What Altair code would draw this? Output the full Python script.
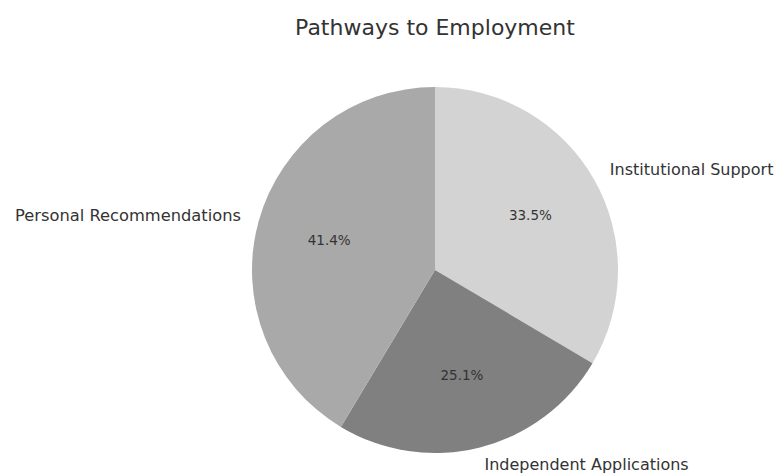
import altair as alt
import pandas as pd

categories = ["Institutional Support", "Independent Applications", "Personal Recommendations"]
shares = [33.5, 25.1, 41.4]
colors = ["#d3d3d3", "#808080", "#a9a9a9"]
label_side = ["right", "right", "left"]

df = pd.DataFrame({
    "category": categories,
    "share": shares,
    "order": list(range(len(categories))),
    "side": label_side,
    "pct": [f"{v:.1f}%" for v in shares],
})

CX, CY, R = 427, 212, 183

base = alt.Chart(df).encode(
    theta=alt.Theta("share:Q", stack=True),
    order=alt.Order("order:Q"),
).transform_calculate(
    lab_right="datum.side == 'right' ? datum.category : ''",
    lab_left="datum.side == 'left' ? datum.category : ''",
)

pie = base.mark_arc(outerRadius=R, stroke=None).encode(
    x=alt.value(CX), y=alt.value(CY),
    color=alt.Color("category:N", scale=alt.Scale(domain=categories, range=colors), legend=None),
)

pct = base.mark_text(radius=R * 0.6, font="DejaVu Sans", fontSize=13.5, color="#333333",
                     align="center", baseline="middle").encode(
    x=alt.value(CX), y=alt.value(CY), text="pct:N")

lab_r = base.mark_text(radius=R * 1.1, font="DejaVu Sans", fontSize=16, color="#333333",
                       align="left", baseline="middle").encode(
    x=alt.value(CX), y=alt.value(CY), text="lab_right:N")

lab_l = base.mark_text(radius=R * 1.1, font="DejaVu Sans", fontSize=16.3, color="#333333",
                       align="right", baseline="middle").encode(
    x=alt.value(CX), y=alt.value(CY), text="lab_left:N")

chart = alt.layer(pie, pct, lab_r, lab_l).properties(
    width=767, height=418,
    autosize=alt.AutoSizeParams(type="none"),
    padding={"left": 0, "top": 50, "right": 0, "bottom": 0},
    title=alt.TitleParams("Pathways to Employment", font="DejaVu Sans", fontSize=22,
                          fontWeight="normal", color="#333333", anchor="middle",
                          dx=43.5, offset=18),
).configure_view(stroke=None)

chart.save("out.html", embed_options={"renderer": "svg", "actions": False})
